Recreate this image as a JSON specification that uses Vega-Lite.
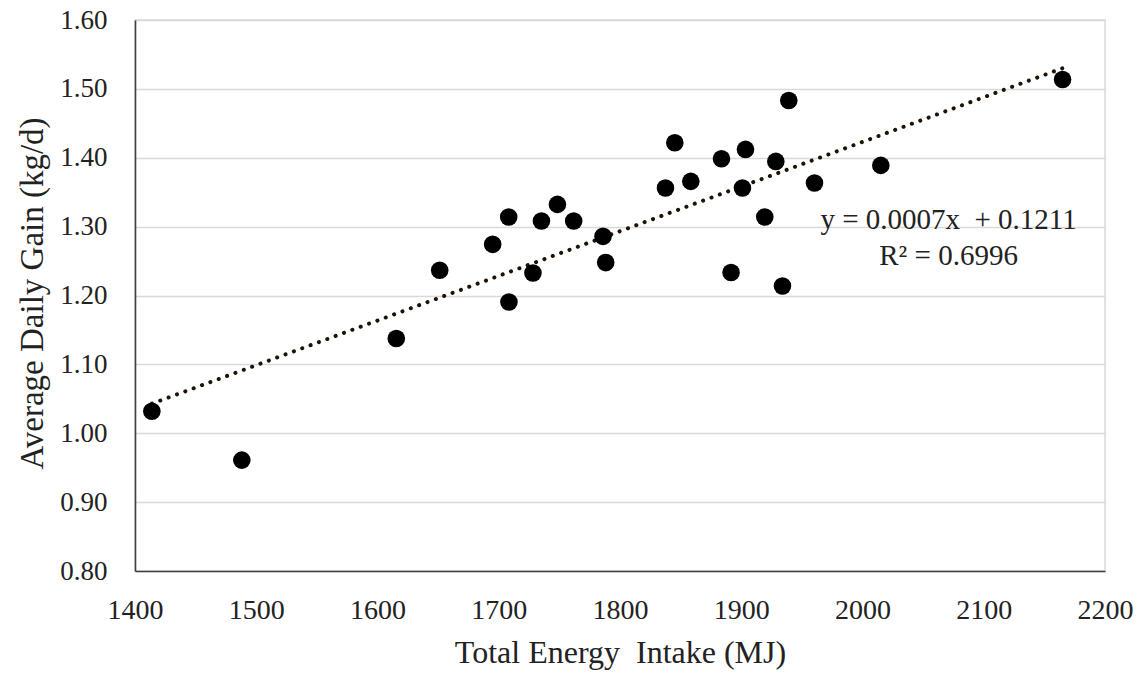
{
  "$schema": "https://vega.github.io/schema/vega-lite/v6.json",
  "autosize": {"type": "none"},
  "padding": {"left": 135, "top": 20, "right": 34, "bottom": 102},
  "width": 970,
  "height": 551,
  "background": "white",
  "config": {
    "font": "Liberation Serif",
    "view": {"stroke": "#d9d9d9", "strokeWidth": 1.5}
  },
  "datasets": {
    "pts": [
      {"energy": 1413.9, "adg": 1.032},
      {"energy": 1488.1, "adg": 0.961},
      {"energy": 1615.5, "adg": 1.1375},
      {"energy": 1651.3, "adg": 1.2366},
      {"energy": 1695.0, "adg": 1.2743},
      {"energy": 1708.2, "adg": 1.3139},
      {"energy": 1708.4, "adg": 1.1906},
      {"energy": 1728.2, "adg": 1.2327},
      {"energy": 1735.2, "adg": 1.3081},
      {"energy": 1748.4, "adg": 1.3323},
      {"energy": 1761.8, "adg": 1.3081},
      {"energy": 1786.0, "adg": 1.2859},
      {"energy": 1788.2, "adg": 1.2478},
      {"energy": 1837.5, "adg": 1.356},
      {"energy": 1845.2, "adg": 1.4218},
      {"energy": 1858.4, "adg": 1.3657},
      {"energy": 1883.7, "adg": 1.3986},
      {"energy": 1891.6, "adg": 1.2333},
      {"energy": 1901.0, "adg": 1.356},
      {"energy": 1903.5, "adg": 1.4121},
      {"energy": 1919.4, "adg": 1.3139},
      {"energy": 1928.5, "adg": 1.3947},
      {"energy": 1934.0, "adg": 1.2138},
      {"energy": 1939.2, "adg": 1.4832},
      {"energy": 1960.4, "adg": 1.3633},
      {"energy": 2015.1, "adg": 1.3889},
      {"energy": 2165.0, "adg": 1.5137}
    ],
    "trend": [
      {"energy": 1413.9, "adg": 1.043},
      {"energy": 2165.0, "adg": 1.530}
    ],
    "notes": [
      {"energy": 2071, "adg": 1.309, "label": "y = 0.0007x \u00a0+ 0.1211"},
      {"energy": 2071, "adg": 1.258, "label": "R² = 0.6996"}
    ]
  },
  "encoding": {
    "x": {
      "field": "energy",
      "type": "quantitative",
      "scale": {"domain": [1400, 2200], "nice": false, "zero": false},
      "axis": {
        "title": "Total Energy \u00a0Intake (MJ)",
        "values": [1400, 1500, 1600, 1700, 1800, 1900, 2000, 2100, 2200],
        "format": "d",
        "grid": false,
        "ticks": false,
        "tickSize": 0,
        "domainColor": "#404040",
        "domainWidth": 1.6,
        "labelFlush": false,
        "labelFont": "Liberation Serif",
        "labelFontSize": 28,
        "labelColor": "#222222",
        "labelPadding": 25,
        "titleFont": "Liberation Serif",
        "titleFontWeight": "normal",
        "titleColor": "#222222",
        "titleFontSize": 32,
        "titleBaseline": "alphabetic",
        "titleY": 91
      }
    },
    "y": {
      "field": "adg",
      "type": "quantitative",
      "scale": {"domain": [0.8, 1.6], "nice": false, "zero": false},
      "axis": {
        "title": "Average Daily Gain (kg/d)",
        "values": [0.8, 0.9, 1.0, 1.1, 1.2, 1.3, 1.4, 1.5, 1.6],
        "format": ".2f",
        "grid": true,
        "gridColor": "#d9d9d9",
        "gridWidth": 1.3,
        "ticks": false,
        "tickSize": 0,
        "domainColor": "#404040",
        "domainWidth": 1.6,
        "labelFlush": false,
        "labelFont": "Liberation Serif",
        "labelFontSize": 27,
        "labelColor": "#222222",
        "labelPadding": 28,
        "titleFont": "Liberation Serif",
        "titleFontWeight": "normal",
        "titleColor": "#222222",
        "titleFontSize": 33,
        "titleBaseline": "alphabetic",
        "titleAlign": "center",
        "titleX": -93,
        "titleY": 273
      }
    }
  },
  "layer": [
    {
      "data": {"name": "trend"},
      "mark": {"type": "line", "color": "#1f1205", "strokeWidth": 4, "strokeDash": [0.1, 8.8], "strokeCap": "round"}
    },
    {
      "data": {"name": "pts"},
      "mark": {"type": "point", "filled": true, "shape": "circle", "size": 310, "color": "#000000", "opacity": 1}
    },
    {
      "data": {"name": "notes"},
      "mark": {"type": "text", "font": "Liberation Serif", "fontSize": 29, "align": "center", "baseline": "middle", "color": "#222222"},
      "encoding": {"text": {"field": "label"}}
    }
  ]
}
